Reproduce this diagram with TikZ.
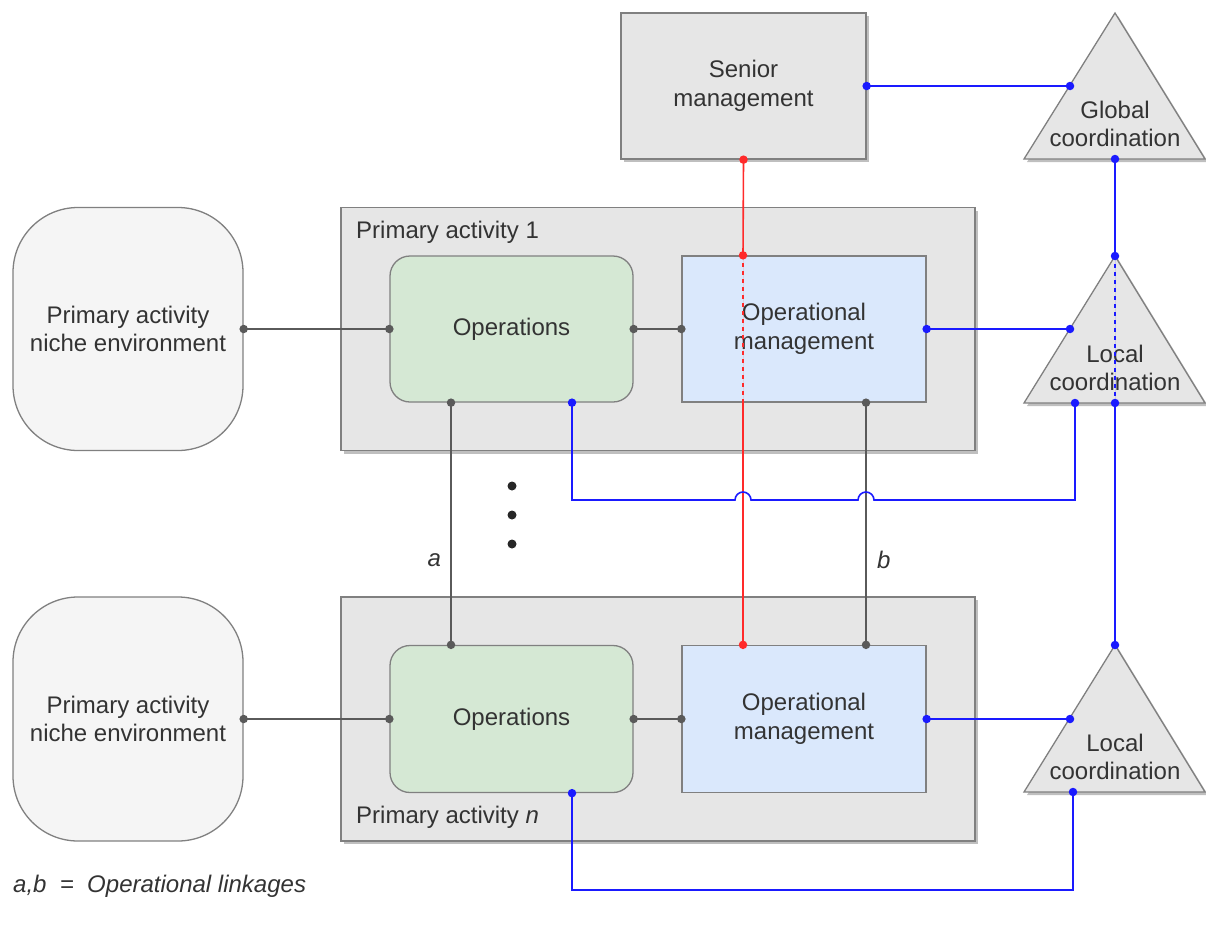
\documentclass[tikz,border=0pt]{standalone}
\usepackage{fontspec}
\setmainfont{Liberation Sans}
\usetikzlibrary{shadows,calc}

\definecolor{txtgray}{HTML}{333333}
\definecolor{boxline}{HTML}{808080}
\definecolor{boxgray}{HTML}{E6E6E6}
\definecolor{nichegray}{HTML}{F5F5F5}
\definecolor{opsgreen}{HTML}{D5E8D4}
\definecolor{mgmtblue}{HTML}{DAE8FC}
\definecolor{linkgray}{HTML}{5A5A5A}
\definecolor{cblue}{HTML}{1A1AFF}
\definecolor{cred}{HTML}{FF2A2A}

\newcommand\mainsize{\fontsize{24}{28.5}\selectfont}

\begin{document}
\begin{tikzpicture}[x=1pt, y=-1pt,
    every node/.style={text=txtgray},
    box/.style={draw=boxline, line width=1.3pt, inner sep=0pt, align=center, font=\mainsize},
    shade/.style={drop shadow={shadow xshift=3pt, shadow yshift=-3pt, fill=black, opacity=0.25}},
    tri/.style={draw=boxline, line width=1.3pt, fill=boxgray, line join=miter, shade},
    dot/.style={circle, fill, inner sep=0pt, minimum size=8.5pt},
    gline/.style={draw=linkgray, fill=linkgray, line width=1.6pt},
    bline/.style={draw=cblue, fill=cblue, line width=1.6pt},
    rline/.style={draw=cred, fill=cred, line width=1.6pt}]
  \useasboundingbox (0,0) rectangle (1206,926);

  % senior management and coordination
  \node[box, fill=boxgray, shade, minimum width=245pt, minimum height=146pt] (senior) at (743.5,86) {Senior\\management};
  \draw[tri] (1115,13) coordinate (glob-n) -- (1205,159) -- (1024,159) -- cycle;
  \node[font=\mainsize, align=center] (glob) at (1115,124) {Global\\coordination};
  \coordinate (glob-w) at (1070,86);
  \coordinate (glob-s) at (1115,159);

  % primary activity 1
  \node[box, fill=boxgray, shade, minimum width=634pt, minimum height=243pt] (cont1) at (658,329) {};
  \node[anchor=west, inner sep=0pt, font=\mainsize] (cont1-label) at (356,232) {Primary activity 1};
  \node[box, fill=nichegray, rounded corners=65pt, minimum width=230pt, minimum height=243pt] (niche1) at (128,329) {Primary activity\\niche environment};
  \node[box, fill=opsgreen, rounded corners=20pt, minimum width=243pt, minimum height=146pt] (ops1) at (511.5,329) {Operations};
  \node[box, fill=mgmtblue, minimum width=244pt, minimum height=146pt] (mgmt1) at (804,329) {Operational\\management};
  \draw[tri] (1115,256) coordinate (loc1-n) -- (1205,403) -- (1024,403) -- cycle;
  \node[font=\mainsize, align=center] (loc1) at (1115,368) {Local\\coordination};
  \coordinate (loc1-w) at (1070,329);
  \coordinate (loc1-s) at (1115,403);
  \coordinate (loc1-sw) at (1075,403);

  % primary activity n
  \node[box, fill=boxgray, shade, minimum width=634pt, minimum height=244pt] (contn) at (658,719) {};
  \node[anchor=west, inner sep=0pt, font=\mainsize] (contn-label) at (356,817) {Primary activity \textit{n}};
  \node[box, fill=nichegray, rounded corners=65pt, minimum width=230pt, minimum height=244pt] (nichen) at (128,719) {Primary activity\\niche environment};
  \node[box, fill=opsgreen, rounded corners=20pt, minimum width=243pt, minimum height=147pt] (opsn) at (511.5,719) {Operations};
  \node[box, fill=mgmtblue, minimum width=244pt, minimum height=147pt] (mgmtn) at (804,719) {Operational\\management};
  \draw[tri] (1115,645) coordinate (locn-n) -- (1205,792) -- (1024,792) -- cycle;
  \node[font=\mainsize, align=center] (locn) at (1115,757) {Local\\coordination};
  \coordinate (locn-w) at (1070,719);
  \coordinate (locn-sw) at (1073,792);

  % ellipsis between the activities
  \foreach \y/\name in {486/d1, 515/d2, 544/d3}
    \node[dot, fill=black!85, minimum size=9pt] (\name) at (512,\y) {};

  % operational links
  \draw[gline] (niche1.east) -- node[dot,pos=0]{} node[dot,pos=1]{} (ops1.west);
  \draw[gline] (ops1.east) -- node[dot,pos=0]{} node[dot,pos=1]{} (mgmt1.west);
  \draw[gline] (nichen.east) -- node[dot,pos=0]{} node[dot,pos=1]{} (opsn.west);
  \draw[gline] (opsn.east) -- node[dot,pos=0]{} node[dot,pos=1]{} (mgmtn.west);
  \draw[gline] ([xshift=-60.5pt]ops1.south) -- node[dot,pos=0]{} node[dot,pos=1]{}
    node[pos=0.65, left=6pt, font=\mainsize\itshape, fill=none] (lab-a) {a} ([xshift=-60.5pt]opsn.north);
  \draw[gline] ([xshift=62pt]mgmt1.south) -- node[dot,pos=0]{} node[dot,pos=1]{}
    node[pos=0.65, right=7pt, font=\mainsize\itshape, fill=none] (lab-b) {b} ([xshift=62pt]mgmtn.north);

  % command channel
  \draw[rline] (senior.south) -- node[dot,pos=0]{} node[dot,pos=1]{} ([xshift=-61pt]mgmt1.north);
  \draw[rline, dash pattern=on 4pt off 4pt] ([xshift=-61pt]mgmt1.north) -- ([xshift=-61pt]mgmt1.south);
  \draw[rline] ([xshift=-61pt]mgmt1.south) -- node[dot,pos=1]{} ([xshift=-61pt]mgmtn.north);

  % coordination channels
  \draw[bline] (senior.east) -- node[dot,pos=0]{} node[dot,pos=1]{} (glob-w);
  \draw[bline] (glob-s) -- node[dot,pos=0]{} node[dot,pos=1]{} (loc1-n);
  \draw[bline, dash pattern=on 4pt off 4pt] (loc1-n) -- (loc1-s);
  \draw[bline] (loc1-s) -- node[dot,pos=0]{} node[dot,pos=1]{} (locn-n);
  \draw[bline] (mgmt1.east) -- node[dot,pos=0]{} node[dot,pos=1]{} (loc1-w);
  \draw[bline] (mgmtn.east) -- node[dot,pos=0]{} node[dot,pos=1]{} (locn-w);
  \draw[bline, fill=none] ([xshift=60.5pt]ops1.south) |- (735,500)
    arc[start angle=180, end angle=0, radius=8pt] -- (858,500)
    arc[start angle=180, end angle=0, radius=8pt] -| (loc1-sw);
  \node[dot, fill=cblue] at ([xshift=60.5pt]ops1.south) {};
  \node[dot, fill=cblue] at (loc1-sw) {};
  \draw[bline, fill=none] ([xshift=60.5pt]opsn.south) |- (1073,890) -- (locn-sw);
  \node[dot, fill=cblue] at ([xshift=60.5pt]opsn.south) {};
  \node[dot, fill=cblue] at (locn-sw) {};

  % legend
  \node[anchor=west, inner sep=0pt, font=\mainsize\itshape] (legend) at (13,886) {a,b\ \ =\ \ Operational linkages};
\end{tikzpicture}
\end{document}
